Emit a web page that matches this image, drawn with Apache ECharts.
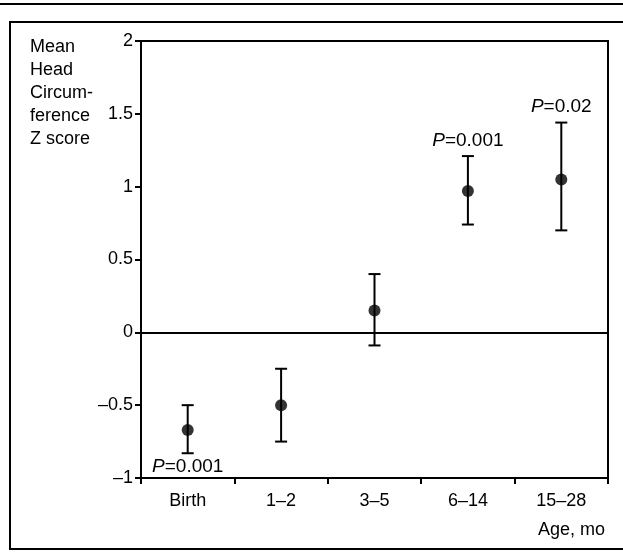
<!DOCTYPE html>
<html>
<head>
<meta charset="utf-8">
<script src="https://cdn.jsdelivr.net/npm/echarts@6/dist/echarts.min.js"></script>
<style>html,body{margin:0;padding:0;background:#fff}#c{width:623px;height:554px}</style>
</head>
<body>
<div id="c"></div>
<script>
var categories = ['Birth', '1\u20132', '3\u20135', '6\u201314', '15\u201328'];
var means = [-0.67, -0.50, 0.15, 0.97, 1.05];
var lows = [-0.83, -0.75, -0.09, 0.74, 0.70];
var highs = [-0.50, -0.25, 0.40, 1.21, 1.44];
var pValues = ['0.001', '', '', '0.001', '0.02'];
var pBelow = [true, false, false, false, false];
var xTitle = 'Age, mo';
var yTitle = 'Mean\nHead\nCircum-\nference\nZ score';

var FONT = '"Liberation Sans", Arial, sans-serif';
var chart = echarts.init(document.getElementById('c'), null, {renderer: 'canvas'});

var errData = categories.map(function (c, i) { return [i, lows[i], highs[i], means[i]]; });

chart.setOption({
  animation: false,
  backgroundColor: '#fff',
  grid: {left: 141, right: 15, top: 41, bottom: 76, show: true, borderColor: '#000', borderWidth: 2, backgroundColor: 'transparent'},
  xAxis: {
    type: 'category', data: categories, boundaryGap: true,
    axisLine: {onZero: false, lineStyle: {color: '#000', width: 2}},
    axisTick: {show: true, inside: false, length: 6, lineStyle: {color: '#000', width: 2}, alignWithLabel: false},
    axisLabel: {color: '#000', fontFamily: FONT, fontSize: 18, margin: 14},
    splitLine: {show: false}
  },
  yAxis: {
    type: 'value', min: -1, max: 2, interval: 0.5,
    axisLine: {show: true, lineStyle: {color: '#000', width: 2}},
    axisTick: {show: true, length: 6, lineStyle: {color: '#000', width: 2}},
    axisLabel: {color: '#000', fontFamily: FONT, fontSize: 18, margin: 8,
      formatter: function (v) { return String(v).replace('-', '\u2013'); }},
    splitLine: {show: false}
  },
  series: [
    {
      type: 'custom',
      data: errData,
      renderItem: function (params, api) {
        var i = api.value(0);
        var lo = api.coord([i, api.value(1)]);
        var hi = api.coord([i, api.value(2)]);
        var hw = 6;
        var st = {stroke: '#000', lineWidth: 2};
        var children = [
          {type: 'line', shape: {x1: hi[0], y1: hi[1], x2: lo[0], y2: lo[1]}, style: st},
          {type: 'line', shape: {x1: hi[0] - hw, y1: hi[1], x2: hi[0] + hw, y2: hi[1]}, style: st},
          {type: 'line', shape: {x1: lo[0] - hw, y1: lo[1], x2: lo[0] + hw, y2: lo[1]}, style: st}
        ];
        var p = pValues[params.dataIndex];
        if (p) {
          var below = pBelow[params.dataIndex];
          children.push({
            type: 'text',
            style: {
              x: hi[0], y: below ? lo[1] + 4 : hi[1] - 6,
              text: '{i|P}=' + p,
              align: 'center', verticalAlign: below ? 'top' : 'bottom',
              fill: '#000', font: '19px ' + FONT,
              rich: {i: {fontStyle: 'italic', fontSize: 19, fontFamily: FONT, fill: '#000'}}
            }
          });
        }
        return {type: 'group', children: children};
      },
      z: 3
    },
    {
      type: 'scatter',
      data: means,
      symbol: 'circle', symbolSize: 12,
      itemStyle: {color: '#000'},
      z: 4,
      markLine: {
        silent: true, symbol: 'none', label: {show: false},
        lineStyle: {color: '#000', width: 2, type: 'solid'},
        data: [{yAxis: 0}]
      }
    }
  ],
  graphic: [
    {type: 'rect', shape: {x: 10, y: 22, width: 615, height: 527}, style: {fill: 'none', stroke: '#000', lineWidth: 2}, silent: true},
    {type: 'line', shape: {x1: 0, y1: 4, x2: 623, y2: 4}, style: {stroke: '#000', lineWidth: 2}, silent: true},
    {type: 'text', left: 30, top: 36, silent: true,
      style: {text: yTitle, font: '18px ' + FONT, lineHeight: 23, fill: '#000'}},
    {type: 'text', right: 18, top: 521, silent: true,
      style: {text: xTitle, font: '18px ' + FONT, fill: '#000'}}
  ]
});
</script>
</body>
</html>
